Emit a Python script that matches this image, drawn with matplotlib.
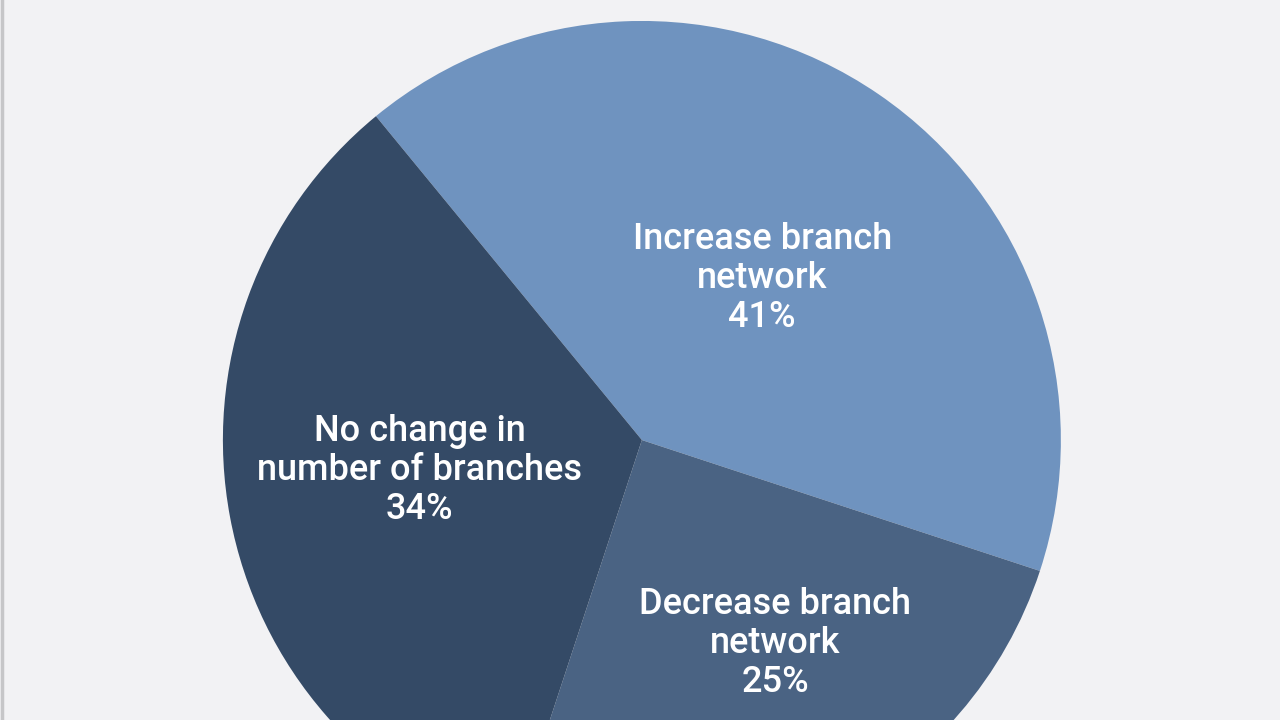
import matplotlib.pyplot as plt
from matplotlib.lines import Line2D

# Data
labels = ['Increase branch\nnetwork', 'Decrease branch\nnetwork', 'No change in\nnumber of branches']
shares = [41, 25, 34]
colors = ['#6F93BF', '#4A6383', '#344A66']
# label anchor positions (in pie-radius units) for each slice
label_xy = [(0.287, 0.385), (0.318, -0.485), (-0.530, -0.072)]

plt.rcParams['font.family'] = ['Roboto', 'DejaVu Sans']

fig = plt.figure(figsize=(12.8, 7.2), dpi=100)
fig.patch.set_facecolor('#F2F2F4')
ax = fig.add_axes([0, 0, 1, 1])
ax.set_facecolor('#F2F2F4')

ax.pie(shares, colors=colors, startangle=129.4, counterclock=False,
       wedgeprops=dict(linewidth=0))

for lab, val, (x, y) in zip(labels, shares, label_xy):
    ax.text(x, y, '%s\n%d%%' % (lab, val), ha='center', va='center',
            color='white', fontsize=26, fontweight='medium', linespacing=1.15)

ax.set_xlim(-1.532, 1.523)
ax.set_ylim(-0.668, 1.050)
ax.set_aspect('auto')
ax.axis('off')

# thin grey rule at the left edge
fig.add_artist(Line2D([0.0012, 0.0012], [0, 1], color='#C6C6C8', lw=2.5,
                      transform=fig.transFigure))

plt.savefig('out.png', dpi=100, facecolor=fig.get_facecolor())
